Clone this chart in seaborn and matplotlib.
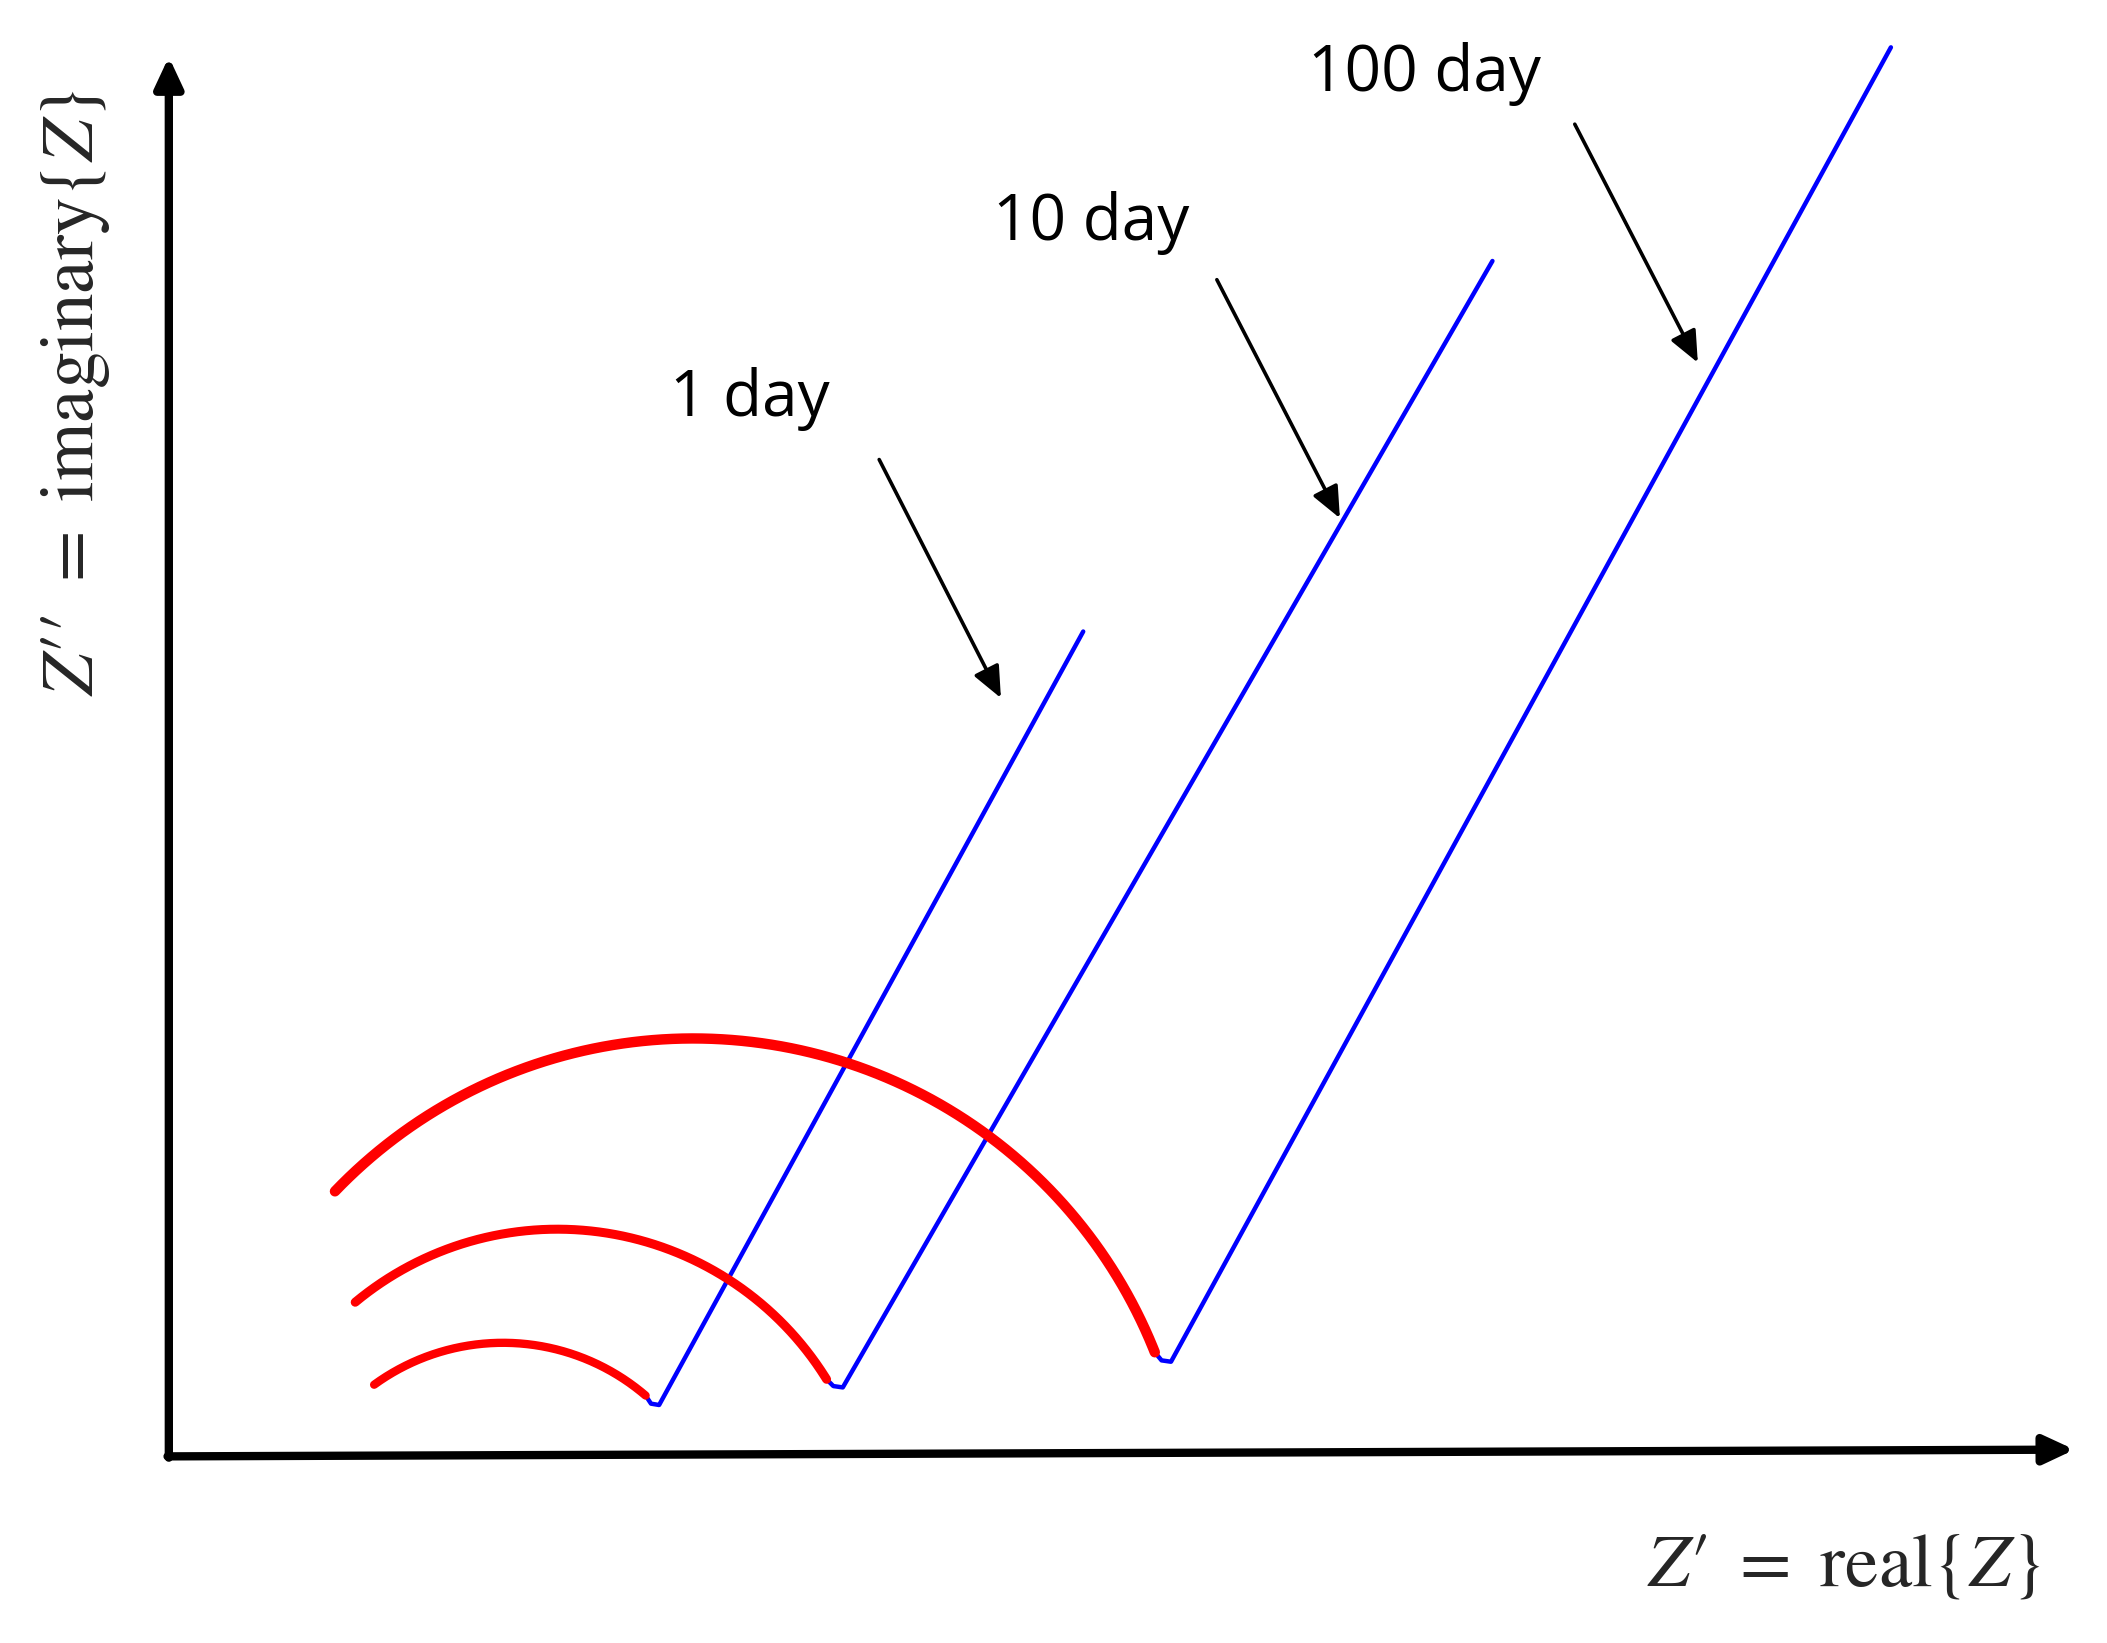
import numpy as np
import pandas as pd
import matplotlib
matplotlib.use("Agg")
import matplotlib.pyplot as plt
import seaborn as sns

# Values in a 1560x1215 picture frame (x right, y down)
labels = ["1 day", "10 day", "100 day"]
arc_left = [(277, 1024), (263, 963), (248, 881)]
arc_top = [(372, 993), (415, 909), (520, 768)]
arc_right = [(478, 1032), (612, 1020), (855, 1000)]
hook_bottom = [(488, 1039), (624, 1026), (867, 1007)]
line_top = [(802, 467), (1105, 193), (1400, 35)]
arc_widths = [6, 6.5, 7.5]
text_pos = [(555, 295), (808, 165), (1055, 55)]
arrow_from = [(650, 338), (900, 205), (1165, 90)]
arrow_to = [(742, 518), (993, 385), (1258, 270)]

sns.set_theme(style="white")
plt.rcParams['font.family'] = ['Open Sans', 'DejaVu Sans']
plt.rcParams['mathtext.fontset'] = 'stix'

fig = plt.figure(figsize=(21.07, 16.43), dpi=100)
ax = fig.add_axes([0, 0, 1, 1])
ax.set_xlim(0, 1560)
ax.set_ylim(1215, 0)
ax.axis("off")

def circle3(p1, p2, p3):
    (x1, y1), (x2, y2), (x3, y3) = p1, p2, p3
    A = np.array([[x2 - x1, y2 - y1], [x3 - x1, y3 - y1]], float) * 2
    b = np.array([x2**2 - x1**2 + y2**2 - y1**2, x3**2 - x1**2 + y3**2 - y1**2], float)
    cx, cy = np.linalg.solve(A, b)
    return cx, cy, np.hypot(x1 - cx, y1 - cy)

for i in range(3):
    cx, cy, r = circle3(arc_left[i], arc_top[i], arc_right[i])
    a1 = np.arctan2(arc_left[i][1] - cy, arc_left[i][0] - cx)
    a2 = np.arctan2(arc_right[i][1] - cy, arc_right[i][0] - cx)
    t = np.linspace(a1, a2, 200)
    df = pd.DataFrame({"x": cx + r * np.cos(t), "y": cy + r * np.sin(t)})
    sns.lineplot(data=df, x="x", y="y", sort=False, ax=ax, color="#ff0000",
                 lw=arc_widths[i], solid_capstyle="round", zorder=3)
    p0, pb, pt = arc_right[i], hook_bottom[i], line_top[i]
    d = np.array(pt, float) - np.array(pb, float)
    d /= np.linalg.norm(d)
    p2 = np.array(pb) + d * 10
    hx = [p0[0], (p0[0] + pb[0]) / 2 - 1, pb[0], p2[0], pt[0]]
    hy = [p0[1], pb[1] - 1, pb[1], p2[1], pt[1]]
    bl = pd.DataFrame({"x": hx, "y": hy})
    sns.lineplot(data=bl, x="x", y="y", sort=False, ax=ax, color="#0000ff", lw=3.2, zorder=2)
    ax.text(*text_pos[i], labels[i], fontsize=46, ha="center", va="center", color="black")
    ax.annotate("", xy=arrow_to[i], xytext=arrow_from[i],
                arrowprops=dict(arrowstyle="-|>,head_length=1.6,head_width=0.7",
                                color="black", lw=2.6))

ax.annotate("", xy=(125, 40), xytext=(125, 1080),
            arrowprops=dict(arrowstyle="-|>,head_length=1.5,head_width=0.7", color="black", lw=6))
ax.annotate("", xy=(1538, 1072), xytext=(122, 1077),
            arrowprops=dict(arrowstyle="-|>,head_length=1.5,head_width=0.7", color="black", lw=6))

ax.text(1365, 1158, r"$Z\prime\ =\ \mathrm{real}\{Z\}$", fontsize=54, ha="center", va="center")
ax.text(55, 290, r"$Z\prime\prime\ =\ \mathrm{imaginary}\{Z\}$", fontsize=54, ha="center", va="center", rotation=90)

fig.savefig("out.png", dpi=100)
